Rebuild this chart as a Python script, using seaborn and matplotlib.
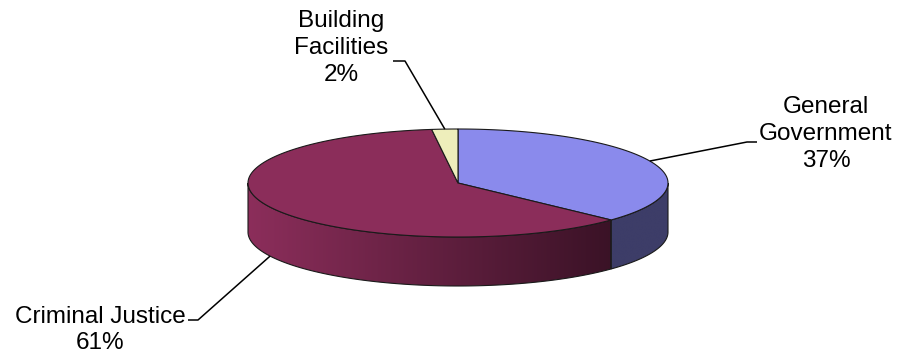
import numpy as np
import matplotlib
matplotlib.use("Agg")
import matplotlib.pyplot as plt
from matplotlib.patches import Polygon
import seaborn as sns

# ---- data ----
categories = ["General\nGovernment", "Criminal Justice", "Building\nFacilities"]
values = [37, 61, 2]
top_colors = ["#8a8aec", "#8b2d5a", "#eeeebb"]
side_colors_left = ["#3d3d68", "#8c2e5b", "#a0a080"]
side_colors_right = ["#3d3d68", "#3a1226", "#a0a080"]

sns.set_theme(style="white")
plt.rcParams['font.family'] = ['Liberation Sans', 'DejaVu Sans']

W, H = 901, 353
fig = plt.figure(figsize=(W / 100, H / 100), dpi=100)
ax = fig.add_axes([0, 0, 1, 1])
ax.set_xlim(0, W)
ax.set_ylim(H, 0)
ax.axis("off")

# pie geometry (layout)
cx, cy, rx, ry, depth = 458, 183, 210, 54, 49
edge = "#1a1a1a"


def pt(theta, dy=0.0):
    t = np.radians(theta)
    return cx + rx * np.sin(t), cy - ry * np.cos(t) + dy


def arc(a0, a1, dy=0.0, n=200):
    th = np.linspace(a0, a1, n)
    xs, ys = pt(th, dy)
    return np.column_stack([xs, ys])


total = sum(values)
bounds = np.concatenate([[0], np.cumsum(values) / total * 360.0])

# ---- side walls (front half: 90..270 deg clockwise from top) ----
for i in range(len(values)):
    a0, a1 = bounds[i], bounds[i + 1]
    lo, hi = max(a0, 90), min(a1, 270)
    if hi <= lo:
        continue
    c_l = np.array(matplotlib.colors.to_rgb(side_colors_left[i]))
    c_r = np.array(matplotlib.colors.to_rgb(side_colors_right[i]))
    xl = pt(hi)[0]
    xr = pt(lo)[0]
    outline = np.vstack([arc(lo, hi, 0), arc(hi, lo, depth)])
    clip = Polygon(outline, closed=True, facecolor="none", edgecolor="none",
                   transform=ax.transData)
    ax.add_patch(clip)
    f = np.linspace(0, 1, 400)
    grad = (c_l[None, :] * (1 - f[:, None]) + c_r[None, :] * f[:, None])[None, :, :]
    ytop = outline[:, 1].min() - 2
    ybot = outline[:, 1].max() + 2
    im = ax.imshow(grad, extent=[xl - 1, xr + 1, ybot, ytop], aspect="auto",
                   interpolation="bilinear", zorder=1)
    im.set_clip_path(clip)
    ax.add_patch(Polygon(outline, closed=True, facecolor="none", edgecolor=edge,
                         lw=0.8, zorder=2))

# ---- top wedges ----
for i in range(len(values)):
    a0, a1 = bounds[i], bounds[i + 1]
    poly = np.vstack([[cx, cy], arc(a0, a1, 0)])
    ax.add_patch(Polygon(poly, closed=True, facecolor=top_colors[i], edgecolor=edge,
                         lw=0.8, zorder=3))

ax.set_xlim(0, W)
ax.set_ylim(H, 0)

# ---- labels and leader lines ----
fs = 17.5
labels = [f"{c}\n{v}%" for c, v in zip(categories, values)]
label_pos = [(826, 134), (100, 330), (341, 48)]
anchors = [(66, 0), (243.5, depth), (356.4, 0)]
elbows = [[(747, 142), (757, 142)], [(198, 320), (188, 320)], [(405, 61), (393, 61)]]

for lab, (lx, ly), (ath, ady), elb in zip(labels, label_pos, anchors, elbows):
    ax.text(lx, ly, lab, ha="center", va="center", multialignment="center",
            fontsize=fs, color="black", linespacing=1.27, zorder=5)
    px, py = pt(ath, ady)
    xs = [px] + [e[0] for e in elb]
    ys = [py] + [e[1] for e in elb]
    ax.plot(xs, ys, color="black", lw=1.1, solid_capstyle="butt", zorder=4)

fig.savefig("out.png", dpi=100)
